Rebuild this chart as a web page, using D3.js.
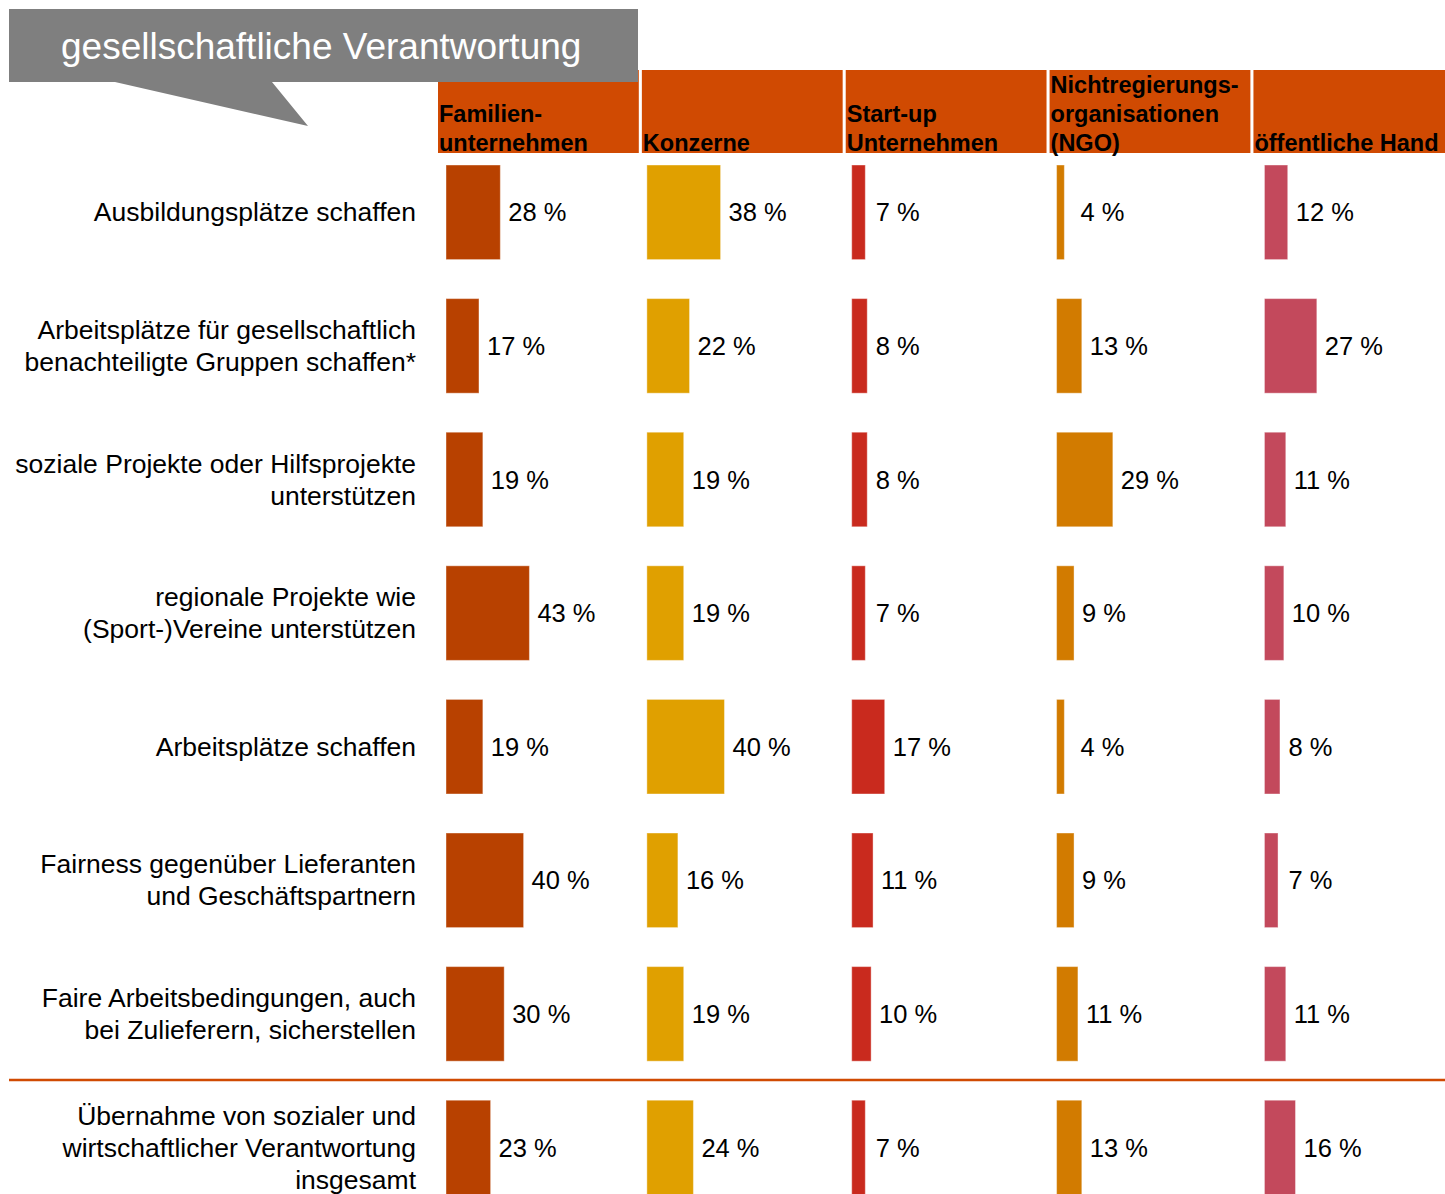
<!DOCTYPE html>
<html>
<head>
<meta charset="utf-8">
<script src="https://cdn.jsdelivr.net/npm/d3@7"></script>
<style>
  body { margin: 0; background: #fff; }
  text { font-family: "Liberation Sans", Arial, sans-serif; }
</style>
</head>
<body>
<div id="chart"></div>
<script>
// data
var title = "gesellschaftliche Verantwortung";

var groups = ["Familienunternehmen", "Konzerne", "Start-up Unternehmen", "NGO", "öffentliche Hand"];
var groupHeaders = [
    ["Familien-", "unternehmen"],
    ["Konzerne"],
    ["Start-up", "Unternehmen"],
    ["Nichtregierungs-", "organisationen", "(NGO)"],
    ["öffentliche Hand"]
];

var categories = [
    ["Ausbildungsplätze schaffen"],
    ["Arbeitsplätze für gesellschaftlich", "benachteiligte Gruppen schaffen*"],
    ["soziale Projekte oder Hilfsprojekte", "unterstützen"],
    ["regionale Projekte wie", "(Sport-)Vereine unterstützen"],
    ["Arbeitsplätze schaffen"],
    ["Fairness gegenüber Lieferanten", "und Geschäftspartnern"],
    ["Faire Arbeitsbedingungen, auch", "bei Zulieferern, sicherstellen"],
    ["Übernahme von sozialer und", "wirtschaftlicher Verantwortung", "insgesamt"]
];

var familien   = [28, 17, 19, 43, 19, 40, 30, 23];
var konzerne   = [38, 22, 19, 19, 40, 16, 19, 24];
var startups   = [7, 8, 8, 7, 17, 11, 10, 7];
var ngo        = [4, 13, 29, 9, 4, 9, 11, 13];
var oeffentlich = [12, 27, 11, 10, 8, 7, 11, 16];

var series = [familien, konzerne, startups, ngo, oeffentlich];
var colours = ["#b84100", "#e0a000", "#c92a1e", "#d27b00", "#c3495c"];
var barOffset = [8, 5, 6, 7, 11]; // bar start inside each column

// dimensions
var width = 1445, height = 1194;

var svg = d3.select("#chart").append("svg")
    .attr("width", width)
    .attr("height", height);

// scales
var rowIdx = d3.range(categories.length);
var y = d3.scaleBand()
    .domain(rowIdx)
    .range([145.5, 145.5 + 8 * 133.6])
    .paddingInner(0.292)
    .paddingOuter(0.146);

var col = d3.scaleBand()
    .domain(groups)
    .range([438, 438 + 5 * 203.25])
    .paddingInner(0.015)
    .paddingOuter(0);

var x = d3.scaleLinear().domain([0, 100]).range([0, 194]);

// header cells
var head = svg.append("g").selectAll("g")
    .data(groups)
    .enter().append("g");

head.append("rect")
    .attr("x", function(d) { return col(d); })
    .attr("y", 70)
    .attr("width", col.bandwidth())
    .attr("height", 83)
    .attr("fill", "#d04a02");

head.each(function(d, i) {
    var lines = groupHeaders[i];
    var g = d3.select(this);
    lines.forEach(function(l, j) {
        g.append("text")
            .attr("x", col(d) + 1)
            .attr("y", 151 - (lines.length - 1 - j) * 29)
            .attr("font-size", 23.5)
            .attr("font-weight", "bold")
            .attr("fill", "#000")
            .text(l);
    });
});

// callout (drawn above the first header cell)
var callout = svg.append("g");
callout.append("path")
    .attr("d", "M9,9 L638,9 L638,82 L272,82 L308,126 L115,82 L9,82 Z")
    .attr("fill", "#7f7f7f");
callout.append("text")
    .attr("x", 61)
    .attr("y", 59)
    .attr("font-size", 37)
    .attr("fill", "#fff")
    .text(title);

// category labels
var catG = svg.append("g").selectAll("g")
    .data(categories)
    .enter().append("g");

catG.each(function(lines, i) {
    var cy = y(i) + y.bandwidth() / 2;
    var g = d3.select(this);
    lines.forEach(function(l, j) {
        g.append("text")
            .attr("x", 416)
            .attr("y", cy + 9 + (j - (lines.length - 1) / 2) * 32)
            .attr("text-anchor", "end")
            .attr("font-size", 26.5)
            .attr("fill", "#000")
            .text(l);
    });
});

// separator before total row
svg.append("line")
    .attr("x1", 9).attr("x2", width)
    .attr("y1", 1080).attr("y2", 1080)
    .attr("stroke", "#d04a02")
    .attr("stroke-width", 2.5);

// bars + labels per group
series.forEach(function(vals, gi) {
    var x0 = col(groups[gi]) + barOffset[gi];
    var g = svg.append("g");

    g.selectAll("rect")
        .data(vals)
        .enter().append("rect")
        .attr("x", x0)
        .attr("y", function(d, i) { return y(i); })
        .attr("width", function(d) { return x(d); })
        .attr("height", y.bandwidth())
        .attr("fill", colours[gi])
        .attr("stroke", "#fff")
        .attr("stroke-opacity", 0.4)
        .attr("stroke-width", 1);

    g.selectAll("text")
        .data(vals)
        .enter().append("text")
        .attr("x", function(d) { return Math.max(x0 + x(d) + 8, x0 + 24); })
        .attr("y", function(d, i) { return y(i) + y.bandwidth() / 2 + 9; })
        .attr("font-size", 25.5)
        .attr("fill", "#000")
        .text(function(d) { return d + " %"; });
});
</script>
</body>
</html>
